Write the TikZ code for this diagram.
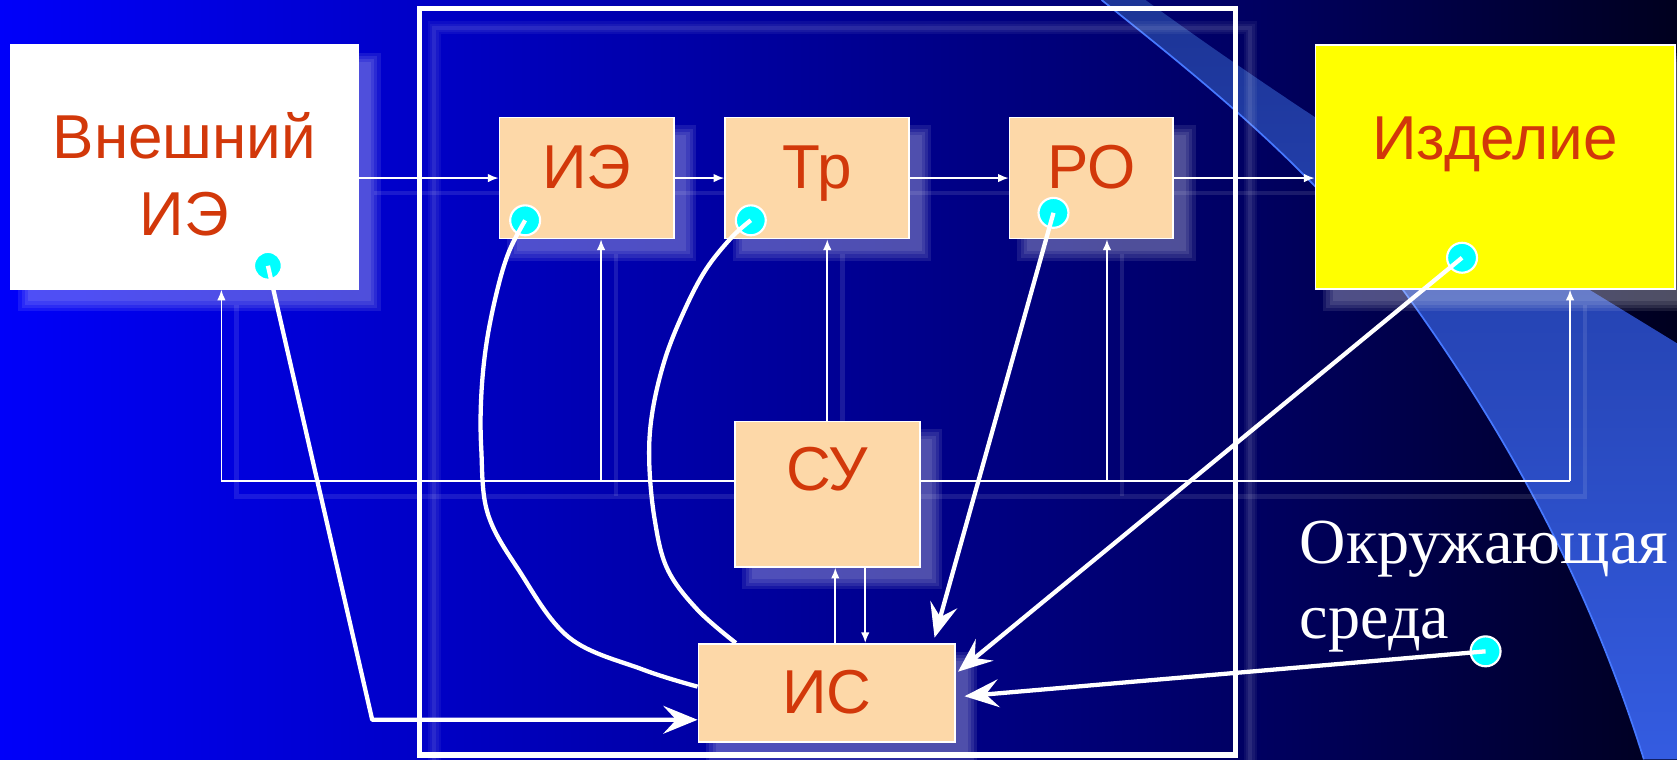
\documentclass[tikz,border=0pt]{standalone}
\usepackage{fontspec}
\newfontfamily\labfont{Liberation Sans}
\newfontfamily\envfont{Liberation Serif}
\usetikzlibrary{arrows.meta,calc}
\definecolor{labred}{RGB}{210,56,10}
\definecolor{peach}{RGB}{253,216,168}
\definecolor{dotcyan}{RGB}{0,255,255}
\definecolor{prodyellow}{RGB}{255,255,0}
\definecolor{bandtop}{RGB}{28,52,150}
\definecolor{bandbot}{RGB}{52,92,225}
\definecolor{bandedge}{RGB}{70,120,255}
% left-to-right fade of the slide background (the middle half maps onto the path)
\pgfdeclarehorizontalshading{bgfade}{100bp}{rgb(0bp)=(0,0,0.98); rgb(25bp)=(0,0,0.98); rgb(37.5bp)=(0,0,0.78); rgb(50bp)=(0,0,0.58); rgb(62.5bp)=(0,0,0.38); rgb(75bp)=(0,0,0.12); rgb(100bp)=(0,0,0.12)}
\pgfdeclarelayer{bg}
\pgfdeclarelayer{shade}
\pgfsetlayers{bg,shade,main}
% soft light shadow behind a block (drawn inside a shifted scope)
\newcommand\softshade[1]{%
  \foreach \g/\h in {3/-3,1.5/-1.5,0/0,-1.5/1.5}{%
    \fill[white, opacity=0.09] ([shift={(\h pt,\h pt)}]#1.south west) rectangle ([shift={(\g pt,\g pt)}]#1.north east);}}
\begin{document}
\begin{tikzpicture}[x=0.5pt, y=-0.5pt,
  box/.style={draw=white, line width=0.8pt, fill=peach, inner sep=0pt},
  lab/.style={anchor=base, text=labred, font=\labfont\fontsize{29}{35}\selectfont, inner sep=0pt},
  envtext/.style={anchor=base west, text=white, font=\envfont\fontsize{30}{35}\selectfont, inner sep=0pt},
  link/.style={draw=white, line width=0.8pt, -{Latex[length=5pt,width=4pt]}},
  wire/.style={draw=white, line width=0.8pt},
  ghost/.style={draw=white, opacity=0.1, line width=2.2pt},
  info/.style={draw=white, line width=2pt, line join=round},
  bigtip/.style={-{Stealth[length=16pt,width=13pt,inset=6pt]}},
  dot/.style={circle, fill=dotcyan, draw=white, line width=1pt, minimum size=14pt, inner sep=0pt}
]
\useasboundingbox (0,0) rectangle (1568,710);
\begin{pgfonlayer}{bg}
% background
\shade[shading=bgfade] (0,0) rectangle (1568,710);
% light swoosh on the right
\shade[top color=bandtop, bottom color=bandbot]
  (1030,0) -- (1071,0) .. controls (1250,130) and (1420,230) .. (1568,321)
  -- (1568,710) -- (1537,710) .. controls (1490,560) and (1420,420) .. (1311,270)
  .. controls (1230,160) and (1130,80) .. (1030,0) -- cycle;
\draw[bandedge, line width=0.8pt] (1537,710) .. controls (1490,560) and (1420,420) .. (1311,270)
  .. controls (1230,160) and (1130,80) .. (1030,0);
% soft shadow of the system boundary
\foreach \w/\o in {6pt/0.05,4pt/0.05,2pt/0.07}
  \draw[white, opacity=\o, line width=\w] (406,26) rectangle (1169,724);
\end{pgfonlayer}

% system boundary
\draw[white, line width=2.5pt] (392,8) rectangle (1155,706);

% blocks
\node[box, fill=white, minimum width=162.5pt, minimum height=114pt] (ext) at (172.5,156) {};
\node[box, minimum width=81.5pt, minimum height=56.5pt] (ie) at (548.5,166.5) {};
\node[box, minimum width=86pt, minimum height=56.5pt] (tr) at (764,166.5) {};
\node[box, minimum width=76.5pt, minimum height=56.5pt] (ro) at (1020.5,166.5) {};
\node[box, fill=prodyellow, minimum width=168pt, minimum height=114pt] (prod) at (1398,156) {};
\node[box, minimum width=86.5pt, minimum height=68pt] (su) at (773.5,462) {};
\node[box, minimum width=120pt, minimum height=46pt] (is) at (773,648) {};

% block labels
\node[lab] (tExt1) at (172.5,148) {Внешний};
\node[lab] (tExt2) at (172.5,220) {ИЭ};
\node[lab] (tIE) at (548.5,176) {ИЭ};
\node[lab] (tTR) at (764,176) {Тр};
\node[lab] (tRO) at (1020.5,176) {РО};
\node[lab] (tPR) at (1398,149) {Изделие};
\node[lab] (tSU) at (773.5,459) {СУ};
\node[lab] (tIS) at (773,667) {ИС};

\node[envtext] (env1) at (1215,527) {Окружающая};
\node[envtext] (env2) at (1215,597) {среда};

% control bus points
\coordinate (bl) at (207,450);
\coordinate (b1) at (562,450);
\coordinate (b2) at (1035,450);
\coordinate (br) at (1468,450);
\coordinate (up) at (781,0);
\coordinate (dn) at (809,0);

% shadows of blocks and thin lines
\begin{pgfonlayer}{shade}
\begin{scope}[transform canvas={shift={(7pt,-7pt)}}]
  \softshade{ext} \softshade{ie} \softshade{tr} \softshade{ro}
  \softshade{prod} \softshade{su} \softshade{is}
  \draw[ghost] (ext.east |- ie.west) -- (prod.west |- ie.west);
  \draw[ghost] (bl |- ext.south) -- (bl) -- (br) -- (br |- prod.south);
  \draw[ghost] (b1) -- (b1 |- ie.south);
  \draw[ghost] (b2) -- (b2 |- ro.south);
  \draw[ghost] (su.north) -- (su.north |- tr.south);
\end{scope}
\end{pgfonlayer}

% energy / material chain
\draw[link] (ext.east |- ie.west) -- (ie.west);
\draw[link] (ie.east) -- (tr.west);
\draw[link] (tr.east) -- (ro.west);
\draw[link] (ro.east) -- (prod.west |- ro.east);

% control bus from СУ
\draw[wire] (bl) -- (su.west |- bl);
\draw[wire] (su.east |- br) -- (br);
\draw[link] (bl) -- (bl |- ext.south);
\draw[link] (b1) -- (b1 |- ie.south);
\draw[link] (b2) -- (b2 |- ro.south);
\draw[link] (br) -- (br |- prod.south);
\draw[link] (su.north) -- (su.north |- tr.south);
\draw[link] (up |- is.north) -- (up |- su.south);
\draw[link] (dn |- su.south) -- (dn |- is.north);

% sensing points
\node[dot, minimum size=13pt] (dExt) at (250.5,248.5) {};
\node[dot] (dIE) at (491,206) {};
\node[dot] (dTR) at (702,206) {};
\node[dot] (dRO) at (985,199) {};
\node[dot] (dPR) at (1367,241) {};
\node[dot] (dEnv) at (1389,609) {};

% information lines into ИС
\coordinate (k1) at (348,673);
\coordinate (k2) at (0,642);
\coordinate (k3) at (688,0);
\draw[info, bigtip] (dExt.center) -- (k1) -- (is.west |- k1);
\draw[info] plot[smooth, tension=0.6] coordinates {(dIE.center) (476,235) (465,271) (455,320) (450,370) (450,420) (456,480) (485,533) (532,596) (601,626) (is.west |- k2)};
\draw[info] plot[smooth, tension=0.6] coordinates {(dTR.center) (684,222) (660,252) (640,290) (622,335) (610,385) (607,430) (612,485) (624,532) (652,570) (k3 |- is.north)};
\draw[info, bigtip] (dRO.center) -- ($(is.north east)+(-20,-5)$);
\draw[info, bigtip] (dPR.center) -- ($(is.east)+(2,-20)$);
\draw[info, bigtip] (dEnv.center) -- ($(is.east)+(8,3)$);
\end{tikzpicture}
\end{document}
